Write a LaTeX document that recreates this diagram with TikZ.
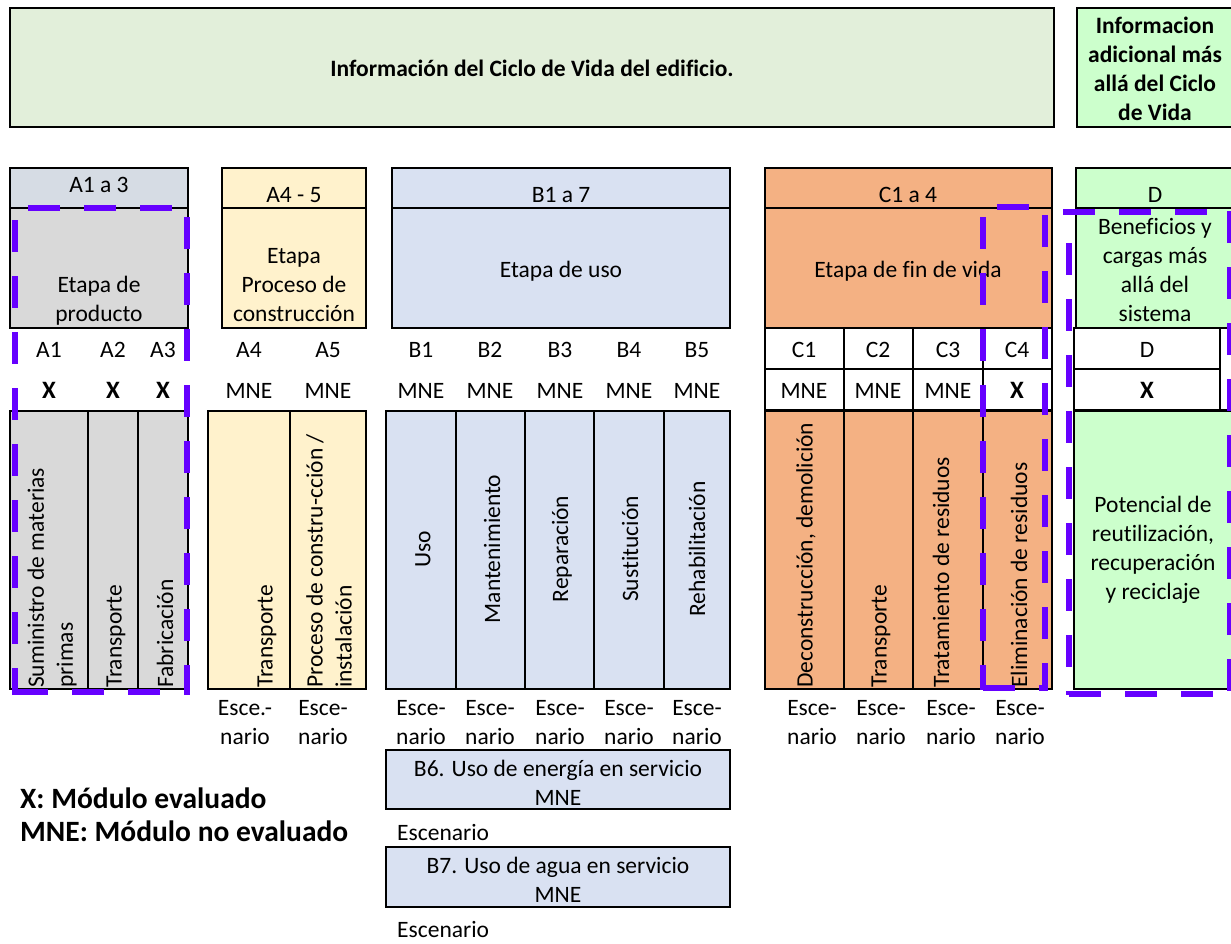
\documentclass[tikz,border=0pt]{standalone}
\usepackage{fontspec}
\setmainfont[Ligatures={TeX,NoCommon}]{Carlito}
\usepackage{tikz}
\usetikzlibrary{positioning}
\definecolor{infogreen}{HTML}{E2EFDA}
\definecolor{extragreen}{HTML}{CCFFCC}
\definecolor{prodhead}{HTML}{D6DCE4}
\definecolor{prodgray}{HTML}{D9D9D9}
\definecolor{constyellow}{HTML}{FFF2CC}
\definecolor{useblue}{HTML}{D9E1F2}
\definecolor{endorange}{HTML}{F4B183}
\definecolor{evalpurple}{HTML}{6600FF}
\tikzstyle{cell}     = [draw=black, line width=2.5pt]
\tikzstyle{evaldash} = [draw=evalpurple, line width=6.5pt, dash pattern=on 32pt off 24pt]
\tikzstyle{lbl}      = [inner sep=0pt, align=center, font=\fontsize{23.5}{29}\selectfont]
\tikzstyle{blbl}     = [lbl, font=\fontsize{23.5}{29}\selectfont\bfseries]
\tikzstyle{vlbl}     = [lbl, rotate=90, anchor=west, align=left]
\tikzstyle{code}     = [lbl, anchor=base]
\tikzstyle{evalmark} = [code, font=\fontsize{25}{29}\selectfont\bfseries]
\tikzstyle{legend}   = [inner sep=0pt, anchor=base west, font=\fontsize{29.5}{36}\selectfont\bfseries]

\begin{document}
\begin{tikzpicture}[x=1pt,y=-1pt]
        \useasboundingbox (0,0) rectangle (1231,943);
        \clip (0,0) rectangle (1231,943);

        % cabecera
        \draw[cell, fill=infogreen] (10,8) rectangle (1054,127);
        \draw[cell, fill=extragreen] (1077,8) rectangle (1240,127);
        \draw (532,68) node[blbl] (info) {Información del Ciclo de Vida del edificio.};
        \draw (1155,69) node[blbl] (extra) {Informacion\\adicional más\\allá del Ciclo\\de Vida};

        % etapas
        \draw[cell, fill=prodhead] (10,168) rectangle (188,208);
        \draw[cell, fill=prodgray] (10,208) rectangle (188,328);
        \draw[cell, fill=constyellow] (222,168) rectangle (366,328);
        \draw[cell] (222,208) -- (366,208);
        \draw[cell, fill=useblue] (392,168) rectangle (730,328);
        \draw[cell] (392,208) -- (730,208);
        \draw[cell, fill=endorange] (765,168) rectangle (1052,328);
        \draw[cell] (765,208) -- (1052,208);
        \draw[cell, fill=extragreen] (1076,168) rectangle (1240,328);
        \draw[cell] (1076,208) -- (1240,208);

        \draw (99,192) node[code] (prod) {A1 a 3};
        \draw (99,301) node[lbl] (prodtxt) {Etapa de\\producto};
        \draw (294,202) node[code] (cons) {A4 - 5};
        \draw (294,285) node[lbl] (constxt) {Etapa\\Proceso de\\construcción};
        \draw (561,202) node[code] (use) {B1 a 7};
        \draw (561,277) node[code] (usetxt) {Etapa de uso};
        \draw (908,202) node[code] (eol) {C1 a 4};
        \draw (908,277) node[code] (eoltxt) {Etapa de fin de vida};
        \draw (1155,202) node[code] (ben) {D};
        \draw (1155,270) node[lbl] (bentxt) {Beneficios y\\cargas más\\allá del\\sistema};

        % filas de modulos C y D
        \draw[cell, fill=white] (765,328) rectangle (1052,410);
        \draw[cell] (765,369) -- (1052,369);
        \draw[cell] (844,328) -- (844,410);
        \draw[cell] (913,328) -- (913,410);
        \draw[cell] (983,328) -- (983,410);
        \draw[cell, fill=white] (1074,328) rectangle (1240,410);
        \draw[cell] (1074,369) -- (1220,369);
        \draw[cell] (1220,328) -- (1220,410);

        \draw (49,357) node[code] (a1) {A1};
        \draw (113,357) node[code] (a2) {A2};
        \draw (163,357) node[code] (a3) {A3};
        \draw (249,357) node[code] (a4) {A4};
        \draw (328,357) node[code] (a5) {A5};
        \draw (421,357) node[code] (b1) {B1};
        \draw (490,357) node[code] (b2) {B2};
        \draw (560,357) node[code] (b3) {B3};
        \draw (629,357) node[code] (b4) {B4};
        \draw (697,357) node[code] (b5) {B5};
        \draw (804,357) node[code] (c1) {C1};
        \draw (878,357) node[code] (c2) {C2};
        \draw (948,357) node[code] (c3) {C3};
        \draw (1017,357) node[code] (c4) {C4};
        \draw (1147,357) node[code] (d) {D};

        \draw (49,398) node[evalmark] (a1v) {X};
        \draw (113,398) node[evalmark] (a2v) {X};
        \draw (163,398) node[evalmark] (a3v) {X};
        \draw (249,398) node[code] (a4v) {MNE};
        \draw (328,398) node[code] (a5v) {MNE};
        \draw (421,398) node[code] (b1v) {MNE};
        \draw (490,398) node[code] (b2v) {MNE};
        \draw (560,398) node[code] (b3v) {MNE};
        \draw (629,398) node[code] (b4v) {MNE};
        \draw (697,398) node[code] (b5v) {MNE};
        \draw (804,398) node[code] (c1v) {MNE};
        \draw (878,398) node[code] (c2v) {MNE};
        \draw (948,398) node[code] (c3v) {MNE};
        \draw (1017,398) node[evalmark] (c4v) {X};
        \draw (1147,398) node[evalmark] (dv) {X};

        % modulos
        \draw[cell, fill=prodgray] (10,411) rectangle (188,689);
        \draw[cell] (88,411) -- (88,689);
        \draw[cell] (138,411) -- (138,689);
        \draw[cell, fill=constyellow] (208,411) rectangle (366,689);
        \draw[cell] (290,411) -- (290,689);
        \draw[cell, fill=useblue] (386,411) rectangle (730,689);
        \draw[cell] (456,411) -- (456,689);
        \draw[cell] (525,411) -- (525,689);
        \draw[cell] (594,411) -- (594,689);
        \draw[cell] (664,411) -- (664,689);
        \draw[cell, fill=endorange] (765,411) rectangle (1052,689);
        \draw[cell] (844,411) -- (844,689);
        \draw[cell] (913,411) -- (913,689);
        \draw[cell] (983,411) -- (983,689);
        \draw[cell, fill=extragreen] (1074,411) rectangle (1240,689);

        \draw (52,688) node[vlbl] (a1m) {Suministro de materias\\primas};
        \draw (116,688) node[vlbl] (a2m) {Transporte};
        \draw (165,688) node[vlbl] (a3m) {Fabricación};
        \draw (267,688) node[vlbl] (a4m) {Transporte};
        \draw (329,688) node[vlbl] (a5m) {Proceso de constru-cción /\\instalación};
        \draw (423,549) node[lbl, rotate=90] (b1m) {Uso};
        \draw (492,549) node[lbl, rotate=90] (b2m) {Mantenimiento};
        \draw (562,549) node[lbl, rotate=90] (b3m) {Reparación};
        \draw (630,549) node[lbl, rotate=90] (b4m) {Sustitución};
        \draw (697,549) node[lbl, rotate=90] (b5m) {Rehabilitación};
        \draw (806,688) node[vlbl] (c1m) {Deconstrucción, demolición};
        \draw (881,688) node[vlbl] (c2m) {Transporte};
        \draw (941,688) node[vlbl] (c3m) {Tratamiento de residuos};
        \draw (1019,688) node[vlbl] (c4m) {Eliminación de residuos};
        \draw (1153,550) node[lbl] (dm) {Potencial de\\reutilización,\\recuperación\\y reciclaje};

        % escenarios
        \draw (245,723) node[lbl] (a4s) {Esce.-\\nario};
        \draw (323,723) node[lbl] (a5s) {Esce-\\nario};
        \draw (421,723) node[lbl] (b1s) {Esce-\\nario};
        \draw (490,723) node[lbl] (b2s) {Esce-\\nario};
        \draw (560,723) node[lbl] (b3s) {Esce-\\nario};
        \draw (629,723) node[lbl] (b4s) {Esce-\\nario};
        \draw (697,723) node[lbl] (b5s) {Esce-\\nario};
        \draw (812,723) node[lbl] (c1s) {Esce-\\nario};
        \draw (881,723) node[lbl] (c2s) {Esce-\\nario};
        \draw (951,723) node[lbl] (c3s) {Esce-\\nario};
        \draw (1020,723) node[lbl] (c4s) {Esce-\\nario};

        \draw[cell, fill=useblue] (386,750) rectangle (730,809);
        \draw (558,783) node[lbl] (b6) {B6. Uso de energía en servicio\\MNE};
        \draw (397,840) node[code, anchor=base west] (b6s) {Escenario};
        \draw[cell, fill=useblue] (386,847) rectangle (730,907);
        \draw (558,880) node[lbl] (b7) {B7. Uso de agua en servicio\\MNE};
        \draw (397,937) node[code, anchor=base west] (b7s) {Escenario};

        % leyenda
        \draw (20,808) node[legend] (evx) {X: Módulo evaluado};
        \draw (20,841) node[legend] (evmne) {MNE: Módulo no evaluado};

        % modulos evaluados
        \draw[evaldash] (28,208) -- (176,208);
        \draw[evaldash] (15,220) -- (15,695);
        \draw[evaldash] (16,692) -- (190,692);
        \draw[evaldash] (187,217) -- (187,695);

        \draw[evaldash] (997,207) -- (1029,207);
        \draw[evaldash] (983,217) -- (983,690);
        \draw[evaldash] (1045,215) -- (1045,690);
        \draw[evaldash] (983,688) -- (1048,688);

        \draw[evaldash] (1063,212) -- (1240,212);
        \draw[evaldash] (1069,243) -- (1069,695);
        \draw[evaldash] (1069,694) -- (1240,694);
        \draw[evaldash] (1230,211) -- (1230,695);
    \end{tikzpicture}
\end{document}
